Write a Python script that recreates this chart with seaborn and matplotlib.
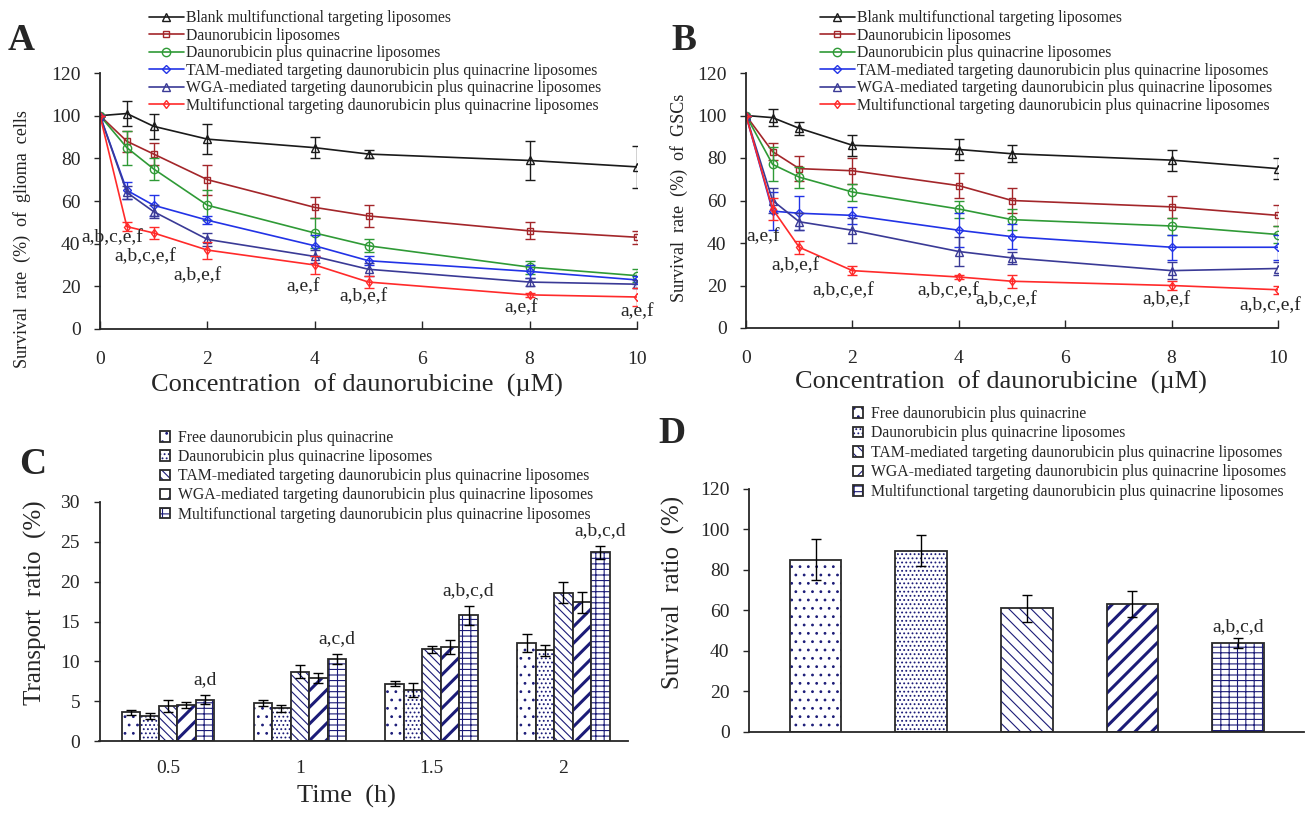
import numpy as np
import pandas as pd
import matplotlib
matplotlib.use("Agg")
import matplotlib.pyplot as plt
import matplotlib.colors as mcolors
import seaborn as sns

# ---------------- data ----------------
conc = [0, 0.5, 1, 2, 4, 5, 8, 10]
line_labels = [
    "Blank multifunctional targeting liposomes",
    "Daunorubicin liposomes",
    "Daunorubicin plus quinacrine liposomes",
    "TAM-mediated targeting daunorubicin plus quinacrine liposomes",
    "WGA-mediated targeting daunorubicin plus quinacrine liposomes",
    "Multifunctional targeting daunorubicin plus quinacrine liposomes",
]
# Panel A (glioma cells)
a_blank = [100, 101, 95, 89, 85, 82, 79, 76]
a_blank_err = [0, 6, 6, 7, 5, 2, 9, 10]
a_dauno = [100, 88, 82, 70, 57, 53, 46, 43]
a_dauno_err = [0, 5, 5, 7, 5, 5, 4, 3]
a_dq = [100, 85, 75, 58, 45, 39, 29, 25]
a_dq_err = [0, 8, 5, 7, 7, 3, 3, 3]
a_tam = [100, 65, 58, 51, 39, 32, 27, 23]
a_tam_err = [0, 4, 5, 2, 5, 2, 3, 2]
a_wga = [100, 64, 55, 42, 34, 28, 22, 21]
a_wga_err = [0, 3, 3, 3, 3, 3, 2, 2]
a_multi = [100, 48, 45, 37, 30, 22, 16, 15]
a_multi_err = [0, 2, 3, 4, 4, 3, 1, 4]
a_notes = ["a,b,c,e,f", "a,b,c,e,f", "a,b,e,f", "a,e,f", "a,b,e,f", "a,e,f", "a,e,f"]

# Panel B (GSCs)
b_blank = [100, 99, 94, 86, 84, 82, 79, 75]
b_blank_err = [0, 4, 3, 5, 5, 4, 5, 5]
b_dauno = [100, 83, 75, 74, 67, 60, 57, 53]
b_dauno_err = [0, 4, 6, 6, 6, 6, 5, 5]
b_dq = [100, 77, 71, 64, 56, 51, 48, 44]
b_dq_err = [0, 8, 5, 4, 4, 5, 4, 4]
b_tam = [100, 55, 54, 53, 46, 43, 38, 38]
b_tam_err = [0, 9, 8, 4, 8, 6, 6, 6]
b_wga = [100, 60, 50, 46, 36, 33, 27, 28]
b_wga_err = [0, 6, 4, 6, 7, 3, 4, 3]
b_multi = [100, 56, 38, 27, 24, 22, 20, 18]
b_multi_err = [0, 5, 3, 2, 1, 3, 2, 2]
b_notes = ["a,e,f", "a,b,e,f", "a,b,c,e,f", "a,b,c,e,f", "a,b,c,e,f", "a,b,e,f", "a,b,c,e,f"]

# Panels C and D
bar_labels = [
    "Free daunorubicin plus quinacrine",
    "Daunorubicin plus quinacrine liposomes",
    "TAM-mediated targeting daunorubicin plus quinacrine liposomes",
    "WGA-mediated targeting daunorubicin plus quinacrine liposomes",
    "Multifunctional targeting daunorubicin plus quinacrine liposomes",
]
times = ["0.5", "1", "1.5", "2"]
c_free = [3.6, 4.8, 7.2, 12.3]
c_free_err = [0.3, 0.4, 0.3, 1.1]
c_lipo = [3.1, 4.1, 6.4, 11.4]
c_lipo_err = [0.4, 0.4, 0.9, 0.7]
c_tam = [4.4, 8.7, 11.5, 18.6]
c_tam_err = [0.8, 0.8, 0.4, 1.3]
c_wga = [4.5, 7.9, 11.8, 17.4]
c_wga_err = [0.4, 0.6, 0.9, 1.3]
c_multi = [5.2, 10.3, 15.8, 23.7]
c_multi_err = [0.6, 0.6, 1.2, 0.8]
c_notes = ["a,d", "a,c,d", "a,b,c,d", "a,b,c,d"]

d_vals = [85, 89.5, 61, 63, 44]
d_err = [10, 7.5, 6.5, 6.5, 2.5]
d_note = "a,b,c,d"

# ---------------- style ----------------
sns.set_theme(style="ticks")
plt.rcParams["font.family"] = ["Liberation Serif", "DejaVu Serif"]
plt.rcParams["hatch.linewidth"] = 0.8
plt.rcParams["axes.linewidth"] = 1.3

navy = "#1c1c78"
line_colors = ["#1a1a1a", "#a3262a", "#2f9a36", "#2233e6", "#3a3a96", "#ff2a2a"]
line_markers = ["^", "s", "o", "D", "^", "d"]
marker_sizes = [6, 5, 6, 4, 6, 4.5]

fig = plt.figure(figsize=(13.1, 8.14), dpi=100)
W, H = 1310, 814


def fax(left, right, top, bottom):
    return fig.add_axes([left / W, 1 - bottom / H, (right - left) / W, (bottom - top) / H])


axA = fax(100, 637, 73, 329)
axB = fax(746, 1278, 73, 328)
axC = fax(99.5, 628, 502, 741)
axD = fax(749, 1304, 488.7, 732)


def place_labels(ax, xcoords, ycoords):
    if xcoords is not None:
        ax.xaxis.set_label_coords(*xcoords)
        ax.xaxis.label.set_va("center")
    ax.yaxis.set_label_coords(*ycoords)
    ax.yaxis.label.set_va("center")


def line_panel(ax, series, errs, notes, note_pos, ylabel, ylab_coords, xlab_coords, leg_x):
    for lab, ys, es, col, mk, ms in zip(line_labels, series, errs, line_colors, line_markers, marker_sizes):
        ax.errorbar(conc, ys, yerr=es, fmt="none", ecolor=col, elinewidth=1.0, capsize=3.5, capthick=1.0)
        sns.lineplot(x=conc, y=ys, ax=ax, color=col, marker=mk, markersize=ms,
                     markerfacecolor="none", markeredgecolor=col, markeredgewidth=1.0,
                     linewidth=1.2, label=lab, errorbar=None)
    for txt, (px, py) in zip(notes, note_pos):
        ax.text(px, py, txt, ha="center", va="center", fontsize=14, clip_on=False)
    ax.set_xlim(0, 10)
    ax.set_ylim(0, 120)
    ax.set_xticks([0, 2, 4, 6, 8, 10])
    ax.set_yticks(range(0, 121, 20))
    ax.tick_params(axis="x", direction="in", length=6, width=1, pad=16, labelsize=14)
    ax.tick_params(axis="y", direction="out", length=4, width=1, pad=10, labelsize=14)
    sns.despine(ax=ax)
    ax.set_ylabel(ylabel, fontsize=13, color="#222222")
    ax.set_xlabel("Concentration  of daunorubicine  (\u00b5M)", fontsize=19)
    place_labels(ax, xlab_coords, ylab_coords)
    ax.legend(loc="upper left", bbox_to_anchor=(leg_x / W, 1 - 10 / H), bbox_transform=fig.transFigure,
              frameon=False, fontsize=11.3, handlelength=2.2, handletextpad=0.15,
              labelspacing=0.1, borderpad=0, borderaxespad=0)


line_panel(axA,
           [a_blank, a_dauno, a_dq, a_tam, a_wga, a_multi],
           [a_blank_err, a_dauno_err, a_dq_err, a_tam_err, a_wga_err, a_multi_err],
           a_notes,
           [(0.22, 43), (0.84, 34), (1.82, 25), (3.78, 20), (4.9, 15), (7.85, 10), (10.0, 8)],
           "Survival  rate  (%)  of  glioma  cells", ((22 - 100) / 537, 0.35), (0.479, -0.219), 149)

line_panel(axB,
           [b_blank, b_dauno, b_dq, b_tam, b_wga, b_multi],
           [b_blank_err, b_dauno_err, b_dq_err, b_tam_err, b_wga_err, b_multi_err],
           b_notes,
           [(0.33, 43), (0.92, 29.6), (1.83, 17.6), (3.8, 17.6), (4.9, 13.6), (7.9, 13.6), (9.85, 10.4)],
           "Survival  rate  (%)  of  GSCs", ((679 - 746) / 532, 0.51), (0.48, -0.212), 820)

hatch_rgba = mcolors.to_rgba(navy)


def style_bars(ax, patch_groups, hatches, hatch_lws, err_groups):
    for patches, hatch, hlw, errs in zip(patch_groups, hatches, hatch_lws, err_groups):
        for p, e in zip(patches, errs):
            p.set_facecolor("white")
            p.set_edgecolor("#2a2a2a")
            p.set_linewidth(1.3)
            p.set_hatch(hatch)
            if hasattr(p, "set_hatchcolor"):
                p.set_hatchcolor(navy)
            else:
                p._hatch_color = hatch_rgba
            if hasattr(p, "set_hatch_linewidth"):
                p.set_hatch_linewidth(hlw)
            cx = p.get_x() + p.get_width() / 2
            ax.errorbar([cx], [p.get_height()], yerr=[e], fmt="none", ecolor="black",
                        elinewidth=1.0, capsize=3.5, capthick=1.0, zorder=5)


# ---------------- Panel C ----------------
c_series = [c_free, c_lipo, c_tam, c_wga, c_multi]
c_errs = [c_free_err, c_lipo_err, c_tam_err, c_wga_err, c_multi_err]
rows = []
for lab, vals in zip(bar_labels, c_series):
    for t, v in zip(times, vals):
        rows.append({"time": t, "group": lab, "value": v})
df_c = pd.DataFrame(rows)
sns.barplot(data=df_c, x="time", y="value", hue="group", order=times, hue_order=bar_labels,
            palette=["white"] * 5, saturation=1, width=0.7, errorbar=None, legend=False, ax=axC)
c_groups = [list(cont.patches) for cont in axC.containers]
style_bars(axC, c_groups, ["..", "....", "\\\\\\\\", "//", "---||"], [0.8, 0.8, 0.8, 2.2, 0.8], c_errs)
for p, e, txt in zip(c_groups[4], c_multi_err, c_notes):
    axC.text(p.get_x() + p.get_width() / 2, p.get_height() + e + 1.9, txt,
             ha="center", va="center", fontsize=14)
axC.set_xlim(-0.52, 3.49)
axC.set_ylim(0, 30)
axC.set_yticks(range(0, 31, 5))
axC.tick_params(axis="x", length=0, pad=14, labelsize=14)
axC.tick_params(axis="y", direction="out", length=4, width=1, pad=10, labelsize=14)
sns.despine(ax=axC)
axC.set_xlabel("Time  (h)", fontsize=19)
axC.set_ylabel("Transport  ratio  (%)", fontsize=18)
place_labels(axC, (0.467, -0.234), ((35 - 99.5) / 528.5, 0.58))
axC.legend(handles=[g[0] for g in c_groups], labels=bar_labels, loc="upper left",
           bbox_to_anchor=(160 / W, 1 - 430 / H), bbox_transform=fig.transFigure,
           frameon=False, fontsize=11.3, handlelength=0.65, handleheight=0.65,
           handletextpad=0.5, labelspacing=0.2, borderpad=0, borderaxespad=0)

# ---------------- Panel D ----------------
sns.barplot(x=bar_labels, y=d_vals, order=bar_labels, color="white", saturation=1,
            width=0.49, errorbar=None, ax=axD)
d_bars = list(axD.containers[0].patches)
style_bars(axD, [[b] for b in d_bars], ["..", "....", "\\\\\\", "//", "---||"],
           [0.8, 0.8, 0.8, 2.2, 0.8], [[e] for e in d_err])
axD.text(d_bars[4].get_x() + d_bars[4].get_width() / 2, d_bars[4].get_height() + d_err[4] + 5.7,
         d_note, ha="center", va="center", fontsize=14)
axD.set_xlim(-0.63, 4.625)
axD.set_ylim(0, 120)
axD.set_yticks(range(0, 121, 20))
axD.set_xticks([])
axD.set_xlabel("")
axD.tick_params(axis="y", direction="out", length=4, width=1, pad=10, labelsize=14)
sns.despine(ax=axD)
axD.set_ylabel("Survival  ratio  (%)", fontsize=18)
place_labels(axD, None, ((673 - 749) / 555, 0.575))
axD.legend(handles=d_bars, labels=bar_labels, loc="upper left",
           bbox_to_anchor=(853 / W, 1 - 406 / H), bbox_transform=fig.transFigure,
           frameon=False, fontsize=11.3, handlelength=0.65, handleheight=0.65,
           handletextpad=0.5, labelspacing=0.22, borderpad=0, borderaxespad=0)

# ---------------- panel letters ----------------
for letter, x, y in [("A", 8, 50), ("B", 671, 50), ("C", 19, 474), ("D", 658, 443)]:
    fig.text(x / W, 1 - y / H, letter, fontsize=27, fontweight="bold", va="baseline", ha="left")

fig.savefig("out.png", dpi=100)
